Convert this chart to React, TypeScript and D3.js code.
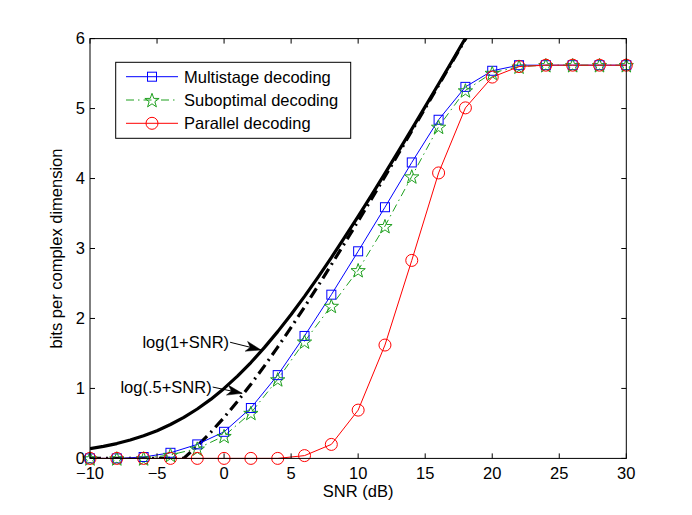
import React from "react";
import * as d3 from "d3";

const W = 692;
const H = 515;
const M = { left: 90, right: 626.3, top: 38.6, bottom: 458.4 };

const snrGrid = [-10, -8, -6, -4, -2, 0, 2, 4, 6, 8, 10, 12, 14, 16, 18, 20, 22, 24, 26, 28, 30];
const multistage = [0, 0, 0.02, 0.08, 0.2, 0.38, 0.72, 1.19, 1.75, 2.34, 2.96, 3.59, 4.23, 4.84, 5.31, 5.54, 5.62, 5.62, 5.62, 5.62, 5.62];
const suboptimal = [0, 0, 0, 0.05, 0.14, 0.32, 0.65, 1.13, 1.67, 2.18, 2.69, 3.32, 4.03, 4.74, 5.26, 5.51, 5.6, 5.62, 5.62, 5.62, 5.62];
const parallel = [0, 0, 0, 0, 0, 0, 0, 0, 0.04, 0.2, 0.69, 1.62, 2.83, 4.08, 5.01, 5.45, 5.6, 5.62, 5.62, 5.62, 5.62];

const capGrid = [-10, -9, -8, -7, -6, -5, -4, -3, -2, -1, 0, 1, 2, 3, 4, 5, 6, 7, 8, 9, 10, 11, 12, 13, 14, 15, 16, 17, 18, 19];
const capLog1 = [0.138, 0.171, 0.212, 0.263, 0.323, 0.396, 0.484, 0.586, 0.706, 0.843, 1.0, 1.176, 1.37, 1.583, 1.812, 2.057, 2.316, 2.588, 2.87, 3.161, 3.459, 3.764, 4.074, 4.389, 4.707, 5.028, 5.351, 5.677, 6.005, 6.334];
const capLogHalf = [0, 0, 0, 0, 0, 0, 0, 0.002, 0.178, 0.372, 0.585, 0.815, 1.06, 1.319, 1.591, 1.873, 2.164, 2.463, 2.768, 3.078, 3.392, 3.71, 4.031, 4.354, 4.679, 5.006, 5.333, 5.662, 5.991, 6.32];

const xTicks = [-10, -5, 0, 5, 10, 15, 20, 25, 30];
const yTicks = [0, 1, 2, 3, 4, 5, 6];

const seriesNames = ["Multistage decoding", "Suboptimal decoding", "Parallel decoding"];
const annotations = [
  { label: "log(1+SNR)", from: [0.45, 1.66], to: [2.75, 1.55] },
  { label: "log(.5+SNR)", from: [-0.85, 1.02], to: [1.35, 0.93] },
];

const FONT = "'Liberation Sans', Arial, Helvetica, sans-serif";
const FS = 16.5;
const BLUE = "#0000ff";
const GREEN = "#1fa01f";
const RED = "#ff0000";

function starPath(cx: number, cy: number, R: number) {
  const r = R * 0.4;
  const pts: string[] = [];
  for (let i = 0; i < 10; i++) {
    const a = -Math.PI / 2 + (i * Math.PI) / 5;
    const rr = i % 2 === 0 ? R : r;
    pts.push(`${cx + rr * Math.cos(a)},${cy + rr * Math.sin(a)}`);
  }
  return "M" + pts.join("L") + "Z";
}

function Square({ x, y, color }: { x: number; y: number; color: string }) {
  const s = 9;
  return <rect x={x - s / 2} y={y - s / 2} width={s} height={s} fill="none" stroke={color} strokeWidth={1} />;
}
function Star({ x, y, color }: { x: number; y: number; color: string }) {
  return <path d={starPath(x, y + 0.8, 7.5)} fill="none" stroke={color} strokeWidth={1} />;
}
function Circle({ x, y, color }: { x: number; y: number; color: string }) {
  return <circle cx={x} cy={y} r={6} fill="none" stroke={color} strokeWidth={1} />;
}

export default function App() {
  const xs = d3.scaleLinear().domain([-10, 30]).range([M.left, M.right]);
  const ys = d3.scaleLinear().domain([0, 6]).range([M.bottom, M.top]);

  const line = d3
    .line<[number, number]>()
    .x((d) => xs(d[0]))
    .y((d) => ys(d[1]));

  const zipped = (xv: number[], yv: number[]) => xv.map((x, i) => [x, yv[i]] as [number, number]);

  const ms = zipped(snrGrid, multistage);
  const so = zipped(snrGrid, suboptimal);
  const pa = zipped(snrGrid, parallel);

  const tickLen = 5;

  const lg = { x0: 115.7, y0: 62.3, x1: 350.7, y1: 138.3 };
  const legendRows = [76.7, 100, 123.3];

  const arrowHead = (fx: number, fy: number, tx: number, ty: number) => {
    const ang = Math.atan2(ty - fy, tx - fx);
    const L = 15, hw = 5, notch = 4;
    const ux = Math.cos(ang), uy = Math.sin(ang);
    const px = -uy, py = ux;
    const bx = tx - ux * L, by = ty - uy * L;
    const p1 = [bx + px * hw, by + py * hw];
    const p2 = [tx - ux * (L - notch), ty - uy * (L - notch)];
    const p3 = [bx - px * hw, by - py * hw];
    return `M${tx},${ty}L${p1[0]},${p1[1]}L${p2[0]},${p2[1]}L${p3[0]},${p3[1]}Z`;
  };

  return (
    <svg
      width={W}
      height={H}
      style={{ position: "absolute", left: 0, top: 0, background: "#fff" }}
      fontFamily={FONT}
    >
      <defs>
        <clipPath id="plotclip">
          <rect x={M.left} y={M.top} width={M.right - M.left} height={M.bottom - M.top} />
        </clipPath>
      </defs>
      <rect x={0} y={0} width={W} height={H} fill="#fff" />

      <g clipPath="url(#plotclip)">
        <path d={line(zipped(capGrid, capLog1)) || ""} fill="none" stroke="#000" strokeWidth={3.2} strokeLinejoin="round" />
        <path
          d={line(zipped(capGrid, capLogHalf)) || ""}
          fill="none"
          stroke="#000"
          strokeWidth={3.2}
          strokeDasharray="11 5 2 5"
        />
      </g>

      <path d={line(ms) || ""} fill="none" stroke={BLUE} strokeWidth={1} />
      <path d={line(so) || ""} fill="none" stroke={GREEN} strokeWidth={1} strokeDasharray="8 4 1.5 4" />
      <path d={line(pa) || ""} fill="none" stroke={RED} strokeWidth={1} />

      {ms.map((d, i) => (
        <Square key={"m" + i} x={xs(d[0])} y={ys(d[1])} color={BLUE} />
      ))}
      {so.map((d, i) => (
        <Star key={"s" + i} x={xs(d[0])} y={ys(d[1])} color={GREEN} />
      ))}
      {pa.map((d, i) => (
        <Circle key={"p" + i} x={xs(d[0])} y={ys(d[1])} color={RED} />
      ))}

      <rect
        x={M.left}
        y={M.top}
        width={M.right - M.left}
        height={M.bottom - M.top}
        fill="none"
        stroke="#000"
        strokeWidth={1}
      />
      {xTicks.map((t) => (
        <g key={"xt" + t}>
          <line x1={xs(t)} x2={xs(t)} y1={M.bottom} y2={M.bottom - tickLen} stroke="#000" />
          <line x1={xs(t)} x2={xs(t)} y1={M.top} y2={M.top + tickLen} stroke="#000" />
          <text x={xs(t)} y={M.bottom + 21} textAnchor="middle" fontSize={FS} fill="#000">
            {t < 0 ? "\u2212" + Math.abs(t) : String(t)}
          </text>
        </g>
      ))}
      {yTicks.map((t) => (
        <g key={"yt" + t}>
          <line x1={M.left} x2={M.left + tickLen} y1={ys(t)} y2={ys(t)} stroke="#000" />
          <line x1={M.right} x2={M.right - tickLen} y1={ys(t)} y2={ys(t)} stroke="#000" />
          <text x={M.left - 5} y={ys(t) + 5.5} textAnchor="end" fontSize={FS} fill="#000">
            {t}
          </text>
        </g>
      ))}

      <text x={(M.left + M.right) / 2} y={497} textAnchor="middle" fontSize={FS} fill="#000">
        SNR (dB)
      </text>
      <text
        transform={`translate(62, ${(M.top + M.bottom) / 2}) rotate(-90)`}
        textAnchor="middle"
        fontSize={FS}
        fill="#000"
      >
        bits per complex dimension
      </text>

      {annotations.map((a) => {
        const fx = xs(a.from[0]), fy = ys(a.from[1]);
        const tx = xs(a.to[0]), ty = ys(a.to[1]);
        return (
          <g key={a.label}>
            <text x={fx - 1} y={fy + 6} textAnchor="end" fontSize={FS} fill="#000">
              {a.label}
            </text>
            <line x1={fx} y1={fy} x2={tx} y2={ty} stroke="#000" strokeWidth={1} />
            <path d={arrowHead(fx, fy, tx, ty)} fill="#000" stroke="#000" strokeWidth={0.5} />
          </g>
        );
      })}

      <rect x={lg.x0} y={lg.y0} width={lg.x1 - lg.x0} height={lg.y1 - lg.y0} fill="#fff" stroke="#000" strokeWidth={1} />
      {seriesNames.map((name, i) => {
        const y = legendRows[i];
        const color = [BLUE, GREEN, RED][i];
        const dash = i === 1 ? "8 4 1.5 4" : undefined;
        return (
          <g key={name}>
            <line x1={126} x2={178} y1={y} y2={y} stroke={color} strokeWidth={1} strokeDasharray={dash} />
            {i === 0 && <Square x={152} y={y} color={color} />}
            {i === 1 && <Star x={152} y={y} color={color} />}
            {i === 2 && <Circle x={152} y={y} color={color} />}
            <text x={184} y={y + 6} fontSize={FS} fill="#000">
              {name}
            </text>
          </g>
        );
      })}
    </svg>
  );
}
